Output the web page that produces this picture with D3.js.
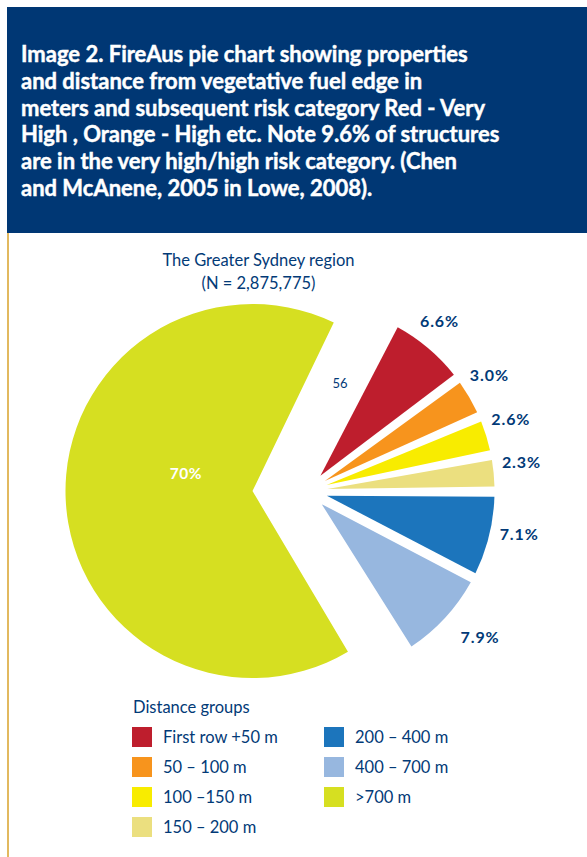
<!DOCTYPE html>
<html>
<head>
<meta charset="utf-8">
<script src="https://cdnjs.cloudflare.com/ajax/libs/d3/7.8.5/d3.min.js"></script>
<style>
body { margin: 0; background: #fff; }
#chart svg { display: block; }
text { font-family: Lato, "Open Sans", sans-serif; }
</style>
</head>
<body>
<div id="chart"></div>
<script>
// distance groups, share of structures (%), printed labels
const categories = ["First row +50 m", "50 \u2013 100 m", "100 \u2013150 m", "150 \u2013 200 m",
                    "200 \u2013 400 m", "400 \u2013 700 m", ">700 m"];
const shares = [6.6, 3.0, 2.6, 2.3, 7.1, 7.9, 70];
const shareLabels = ["6.6%", "3.0%", "2.6%", "2.3%", "7.1%", "7.9%", "70%"];
const colors = ["#be1e2d", "#f7941d", "#f8ec00", "#ebdf7f", "#1c75bc", "#97b7df", "#d6df21"];

const titleLines = [
  "Image 2. FireAus pie chart showing properties",
  "and distance from vegetative fuel edge in",
  "meters and subsequent risk category Red - Very",
  "High , Orange - High etc. Note 9.6% of structures",
  "are in the very high/high risk category. (Chen",
  "and McAnene, 2005 in Lowe, 2008)."
];
const regionLines = ["The Greater Sydney region", "(N = 2,875,775)"];
const legendTitle = "Distance groups";
const strayLabel = "56";

const navy = "#023a77";
const deg = Math.PI / 180;

function drawChart() {
  const width = 587, height = 857;

  const svg = d3.select("#chart").append("svg")
    .attr("width", width)
    .attr("height", height);

  // header box + gold rule down the left side
  svg.append("rect")
    .attr("x", 7).attr("y", 7)
    .attr("width", width - 7).attr("height", 226)
    .attr("fill", "#003774");
  svg.append("rect")
    .attr("x", 7).attr("y", 233)
    .attr("width", 2).attr("height", height - 233)
    .attr("fill", "#e2b95f");

  let title = svg.append("g")
    .selectAll("text")
    .data(titleLines)
    .enter()
    .append("text")
    .attr("x", 21)
    .attr("y", (d, i) => 62.3 + i * 26.7)
    .attr("fill", "#fff")
    .attr("stroke", "#fff")
    .attr("stroke-width", 0.45)
    .attr("font-weight", 700)
    .attr("font-size", 20)
    .text(d => d);
  // fit the first line to its width in the picture
  let w0 = title.node().getComputedTextLength();
  title.attr("font-size", 20 * 447 / w0);

  // region caption
  svg.append("g")
    .selectAll("text")
    .data(regionLines)
    .enter()
    .append("text")
    .attr("x", 258.5)
    .attr("y", (d, i) => 266 + i * 23)
    .attr("text-anchor", "middle")
    .attr("fill", navy)
    .attr("font-size", 16.5)
    .text(d => d);

  // pie
  const cx = 252.5, cy = 491;
  const radius = 187;
  const pushX = 55;          // small slices pulled out to the right
  const pie = d3.pie()
    .sort(null)
    .value(d => d)
    .startAngle(27.3 * deg)
    .endAngle(27.3 * deg + 2 * Math.PI)
    .padAngle(3.5 * deg);
  const arcs = pie(shares);

  const bigArc = d3.arc().innerRadius(0).outerRadius(radius).padRadius(164);
  const smallArc = d3.arc().innerRadius(20).outerRadius(radius).padRadius(164);
  const last = shares.length - 1;

  let pieG = svg.append("g")
    .attr("transform", "translate(" + cx + "," + cy + ")");

  pieG.selectAll("path")
    .data(arcs)
    .enter()
    .append("path")
    .attr("d", d => d.index === last ? bigArc(d) : smallArc(d))
    .attr("transform", d => d.index === last ? null : "translate(" + pushX + ",0)")
    .attr("fill", (d, i) => colors[i]);

  // percentage labels, just outside the rim
  const labelAngle = d => (d.startAngle + d.endAngle) / 2 - 2.5 * deg;
  const labelR = d => labelAngle(d) > 120 * deg ? 226 : 216;
  pieG.selectAll(".pct")
    .data(arcs.filter(d => d.index !== last))
    .enter()
    .append("text")
    .attr("class", "pct")
    .attr("x", d => pushX + labelR(d) * Math.sin(labelAngle(d)))
    .attr("y", d => -labelR(d) * Math.cos(labelAngle(d)))
    .attr("text-anchor", "middle")
    .attr("dominant-baseline", "central")
    .attr("fill", navy)
    .attr("font-weight", 700)
    .attr("font-size", 16)
    .attr("letter-spacing", 0.9)
    .text(d => shareLabels[d.index]);

  let big = arcs[last];
  let bigMid = (big.startAngle + big.endAngle) / 2 + 17.5 * deg;
  pieG.append("text")
    .attr("x", 69 * Math.sin(bigMid))
    .attr("y", -69 * Math.cos(bigMid))
    .attr("text-anchor", "middle")
    .attr("dominant-baseline", "central")
    .attr("fill", "#fff")
    .attr("font-weight", 700)
    .attr("font-size", 15.5)
    .attr("letter-spacing", 0.6)
    .text(shareLabels[last]);

  pieG.append("text")
    .attr("x", 340 - cx)
    .attr("y", 388 - cy)
    .attr("text-anchor", "middle")
    .attr("fill", navy)
    .attr("font-size", 13)
    .text(strayLabel);

  // legend
  let legend = svg.append("g");
  legend.append("text")
    .attr("x", 133).attr("y", 713.3)
    .attr("fill", navy)
    .attr("font-size", 16.5)
    .text(legendTitle);

  let items = legend.selectAll(".item")
    .data(categories)
    .enter()
    .append("g")
    .attr("class", "item")
    .attr("transform", (d, i) => "translate(" + (i < 4 ? 132 : 324) + "," + (727 + (i % 4) * 30) + ")");
  items.append("rect")
    .attr("width", 20).attr("height", 20)
    .attr("fill", (d, i) => colors[i]);
  items.append("text")
    .attr("x", 31).attr("y", 16.3)
    .attr("fill", navy)
    .attr("font-size", 16.5)
    .text(d => d);
}

drawChart();
</script>
</body>
</html>
